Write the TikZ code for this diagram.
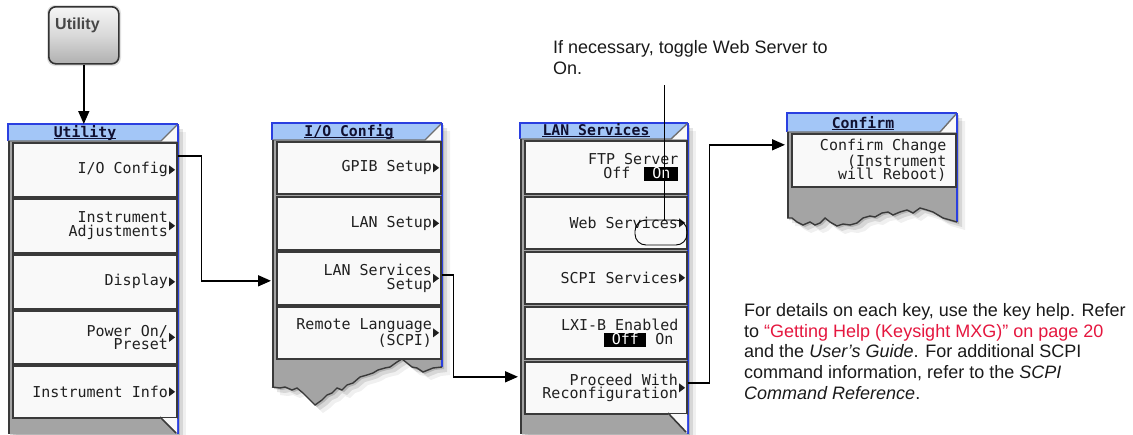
\documentclass[tikz,border=0pt]{standalone}
\usepackage{fontspec}
\setmainfont{Liberation Sans}
\newfontfamily\menufont{DejaVu Sans Mono}
\usetikzlibrary{arrows.meta,calc}
\definecolor{titleblue}{HTML}{A3C6F7}
\definecolor{edgeblue}{HTML}{2A3FE0}
\definecolor{panelgray}{HTML}{A4A4A4}
\definecolor{btnfill}{HTML}{F9F9F9}
\definecolor{btnedge}{HTML}{3A3A3A}
\definecolor{tabedge}{HTML}{707070}
\definecolor{ksred}{HTML}{E5173F}
\definecolor{txt}{HTML}{1A1A1A}
\definecolor{menutext}{HTML}{202020}
\definecolor{titletext}{HTML}{101030}
\newcommand\subtri[1]{\fill[menutext] ([xshift=-8.5pt,yshift=4.5pt]#1.east) -- ++(6pt,-4.5pt) -- ++(-6pt,-4.5pt) -- cycle;}
\newcommand\hlbox[2]{{\fboxsep=0pt\colorbox{black}{\rule[-2.5pt]{0pt}{12.5pt}\makebox[#1]{\textcolor{white}{#2}}}}}
\newcommand\softshadow[1]{\foreach \d/\o in {2/0.16,5/0.10,8/0.06}{\fill[black,opacity=\o,shift={(\d,\d)}] #1;}}
\newcommand\titletab[5]{%
  \fill[titleblue] (#1,#3) -- (#2,#3) -- (#5,#4) -- (#1,#4) -- cycle;
  \fill[btnfill] (#2,#3) -- (#2,#4) -- (#5,#4) -- cycle;
  \draw[edgeblue, line width=1.2pt] (#1,#4) -- (#1,#3) -- (#2,#3);
  \draw[tabedge, line width=1.4pt] (#1,#4) -- (#5,#4) -- (#2,#3);
}
\def\iojag{(442,367) -- (433,368) -- (428,370) -- (423,372) -- (417,368) -- (412,367) -- (407,363) -- (402,359) -- (397,362) -- (390,367) -- (385,368) -- (378,370) -- (373,373) -- (367,375) -- (360,377) -- (353,383) -- (347,385) -- (342,390) -- (337,388) -- (332,393) -- (327,395) -- (322,400) -- (315,405) -- (310,400) -- (303,393) -- (297,388) -- (292,390) -- (285,387) -- (280,388) -- (272,387)}
\def\cfjag{(957,222) -- (950,220) -- (943,218) -- (938,215) -- (933,212) -- (927,210) -- (920,208) -- (913,213) -- (907,210) -- (900,212) -- (893,215) -- (888,212) -- (882,213) -- (875,217) -- (870,216) -- (863,218) -- (857,223) -- (850,225) -- (843,224) -- (837,226) -- (830,222) -- (825,218) -- (820,223) -- (815,225) -- (810,222) -- (803,225) -- (797,222) -- (792,218) -- (787,218)}
\tikzset{
  frame/.style={anchor=north west, inner sep=0pt, outer sep=0pt, draw=none},
  btn/.style={anchor=north west, draw=btnedge, line width=1.6pt, fill=btnfill, inner sep=0pt},
  lbl/.style={anchor=east, align=right, inner sep=0pt, text=menutext, font=\menufont\fontsize{15}{13.5}\selectfont},
  ttl/.style={anchor=base, inner sep=0pt, text=titletext, font=\menufont\bfseries\fontsize{14.8}{15}\selectfont},
  conn/.style={line width=1.6pt, -{Triangle[length=13pt,width=11pt]}},
  callout/.style={line width=0.9pt},
  note/.style={anchor=base west, inner sep=0pt, text=txt, font=\fontsize{18}{20.7}\selectfont},
  hardkey/.style={anchor=north west, draw=gray!40!black, line width=1.6pt, rounded corners=7pt, top color=gray!8, bottom color=gray!62, middle color=gray!30, inner sep=0pt},
}
\begin{document}
\begin{tikzpicture}[x=1pt,y=-1pt]
\useasboundingbox (0,0) rectangle (1133,434);
\fill[white] (0,0) rectangle (1133,434);

% hardkey
\fill[black, opacity=0.12, rounded corners=8pt] (47,5) rectangle (121,66);
\node[hardkey, minimum width=70pt, minimum height=57pt] (hk) at (48,6) {};
\node[anchor=base west, inner sep=0pt, font=\bfseries\fontsize{16}{16}\selectfont, text=black!72] (hkl) at (55,29) {Utility};

% ---------------- Utility panel
\softshadow{(8,124) rectangle (178,434)}
\node[frame, minimum width=170pt, minimum height=310pt] (U) at (8,124) {};
\fill[panelgray] (8,141) rectangle (178,434);
\titletab{8}{178}{124}{141}{161}
\draw[btnedge, line width=1.2pt] (9,141) -- (9,434);
\draw[edgeblue, line width=1.2pt] (178,124) -- (178,434);
\node[ttl] (ut) at (85,137) {Utility};
\draw[titletext, line width=1pt] ([yshift=-1.5pt]ut.base west) -- ([yshift=-1.5pt]ut.base east);
\node[btn, minimum width=164pt, minimum height=54pt] (u1) at (12,142) {};
\node[btn, minimum width=164pt, minimum height=54pt] (u2) at (12,198) {};
\node[btn, minimum width=164pt, minimum height=54pt] (u3) at (12,254) {};
\node[btn, minimum width=164pt, minimum height=53pt] (u4) at (12,310) {};
\node[btn, minimum width=164pt, minimum height=52pt] (u5) at (12,365) {};
\fill[btnfill] (160,418) -- (177,418) -- (177,433) -- cycle;
\draw[btnedge, line width=1.6pt] (160,417) -- (176,433);
\node[lbl] at ([xshift=-9.5pt]u1.east) {I/O Config}; \subtri{u1}
\node[lbl] at ([xshift=-9.5pt]u2.east) {Instrument\\Adjustments}; \subtri{u2}
\node[lbl] at ([xshift=-9.5pt]u3.east) {Display}; \subtri{u3}
\node[lbl] at ([xshift=-9.5pt]u4.east) {Power On/\\Preset}; \subtri{u4}
\node[lbl] at ([xshift=-9.5pt]u5.east) {Instrument Info}; \subtri{u5}

% ---------------- I/O Config panel
\softshadow{(272,123) -- (442,123) -- \iojag -- cycle}
\node[frame, minimum width=170pt, minimum height=282pt] (IO) at (272,123) {};
\fill[panelgray] (272,140) -- (442,140) -- \iojag -- cycle;
\titletab{272}{442}{123}{140}{425}
\draw[btnedge, line width=1.2pt] (273,140) -- (273,387);
\draw[edgeblue, line width=1.2pt] (442,123) -- (442,367);
\draw[btnedge, line width=1.4pt] \iojag;
\node[ttl] (it) at (349,136) {I/O Config};
\draw[titletext, line width=1pt] ([yshift=-1.5pt]it.base west) -- ([yshift=-1.5pt]it.base east);
\node[btn, minimum width=164pt, minimum height=52pt] (i1) at (276,141) {};
\node[btn, minimum width=164pt, minimum height=53pt] (i2) at (276,196) {};
\node[btn, minimum width=164pt, minimum height=53pt] (i3) at (276,251) {};
\node[btn, minimum width=164pt, minimum height=52pt] (i4) at (276,306) {};
\node[lbl] at ([xshift=-9.5pt]i1.east) {GPIB Setup}; \subtri{i1}
\node[lbl] at ([xshift=-9.5pt]i2.east) {LAN Setup}; \subtri{i2}
\node[lbl] at ([xshift=-9.5pt]i3.east) {LAN Services\\Setup}; \subtri{i3}
\node[lbl] at ([xshift=-9.5pt]i4.east) {Remote Language\\(SCPI)}; \subtri{i4}

% ---------------- LAN Services panel
\softshadow{(520,123) rectangle (688,434)}
\node[frame, minimum width=168pt, minimum height=311pt] (LS) at (520,123) {};
\fill[panelgray] (520,139) rectangle (688,434);
\titletab{520}{688}{123}{139}{671}
\draw[btnedge, line width=1.2pt] (521,139) -- (521,434);
\draw[edgeblue, line width=1.2pt] (688,123) -- (688,434);
\node[ttl] (lt) at (596,135) {LAN Services};
\draw[titletext, line width=1pt] ([yshift=-1.5pt]lt.base west) -- ([yshift=-1.5pt]lt.base east);
\node[btn, minimum width=162pt, minimum height=53pt] (l1) at (524,140) {};
\node[btn, minimum width=162pt, minimum height=52pt] (l2) at (524,196) {};
\node[btn, minimum width=162pt, minimum height=52pt] (l3) at (524,251) {};
\node[btn, minimum width=162pt, minimum height=52pt] (l4) at (524,306) {};
\node[btn, minimum width=162pt, minimum height=52pt] (l5) at (524,361) {};
\fill[btnfill] (668,414) -- (687,414) -- (687,433) -- cycle;
\draw[btnedge, line width=1.6pt] (668,413) -- (686,432);
\node[lbl] at ([xshift=-9pt]l1.east) {FTP Server\\Off\hspace{14pt}\hlbox{34pt}{On}};
\node[lbl] at ([xshift=-9.5pt]l2.east) {Web Services}; \subtri{l2}
\node[lbl] at ([xshift=-9.5pt]l3.east) {SCPI Services}; \subtri{l3}
\node[lbl] at ([xshift=-9pt]l4.east) {LXI-B Enabled\\\hlbox{42pt}{Off}\hspace{9pt}On\kern5pt};
\node[lbl] at ([xshift=-9.5pt]l5.east) {Proceed With\\Reconfiguration}; \subtri{l5}
\node[draw, rounded corners=11pt, minimum width=52pt, minimum height=25pt, line width=0.9pt, inner sep=0pt] (ov) at (661,232.5) {};

% ---------------- Confirm panel
\softshadow{(787,113) -- (957,113) -- \cfjag -- cycle}
\node[frame, minimum width=170pt, minimum height=115pt] (CF) at (787,113) {};
\fill[panelgray] (787,132) -- (957,132) -- \cfjag -- cycle;
\titletab{787}{957}{113}{132}{940}
\draw[btnedge, line width=1.2pt] (788,132) -- (788,218);
\draw[edgeblue, line width=1.2pt] (957,113) -- (957,222);
\draw[btnedge, line width=1.4pt] \cfjag;
\node[ttl] (ct) at (863,128) {Confirm};
\draw[titletext, line width=1pt] ([yshift=-1.5pt]ct.base west) -- ([yshift=-1.5pt]ct.base east);
\node[btn, minimum width=164pt, minimum height=53pt] (c1) at (791,133) {};
\node[lbl] at ([xshift=-10pt]c1.east) {Confirm Change\\(Instrument\\will Reboot)};

% ---------------- notes
\node[note] (t1) at (553,53) {If necessary, toggle Web Server to};
\node[note] (t2) at (553,74) {On.};
\node[note] (r1) at (744,316) {For details on each key, use the key help. Refer};
\node[note] (r2) at (744,337) {to \textcolor{ksred}{“Getting Help (Keysight MXG)” on page 20}};
\node[note] (r3) at (744,357) {and the \textit{User’s Guide}. For additional SCPI};
\node[note] (r4) at (744,378) {command information, refer to the \textit{SCPI}};
\node[note] (r5) at (744,399) {\textit{Command Reference}.};

% ---------------- connectors
\draw[conn] (hk.south) -- (hk.south |- U.north);
\draw[conn] ($(u1.east)+(0,-14)$) -- ++(24,0) |- ($(IO.west |- i3.west)+(-1,2.5)$);
\draw[conn] ($(i3.east)+(0,-3.5)$) -- ++(12,0) |- ($(LS.west |- l5.west)+(-2,-11)$);
\draw[conn] ($(l5.east)+(0,-5)$) -- ++(22,0) |- ($(CF.west |- c1.west)+(-2,-15.5)$);
\coordinate (cs) at (664,85);
\draw[callout] (cs) -- (cs |- ov.north);
\end{tikzpicture}
\end{document}
